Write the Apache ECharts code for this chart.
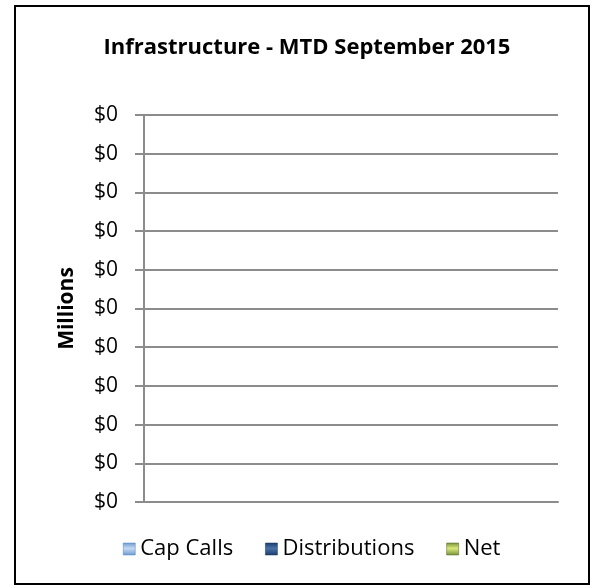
<!DOCTYPE html>
<html>
<head>
<meta charset="utf-8">
<script src="https://cdn.jsdelivr.net/npm/echarts@6/dist/echarts.min.js"></script>
<style>
  html, body { margin: 0; padding: 0; background: #fff; }
  #chart { width: 591px; height: 586px; }
</style>
</head>
<body>
<div id="chart"></div>
<script>
// Month-to-date cash flows for the Infrastructure portfolio (US dollars)
const categories = ['Infrastructure'];
const capCalls = [0];
const distributions = [0];
const net = [0];
const seriesNames = ['Cap Calls', 'Distributions', 'Net'];

// Axis range in dollars; labels shown in millions
const axisMin = 0;
const axisMax = 1000;
const axisStep = 100;

const FONT = '"Open Sans", "Noto Sans", sans-serif';

function grad(edge, mid) {
  return {
    type: 'linear', x: 0, y: 0, x2: 0, y2: 1,
    colorStops: [
      { offset: 0, color: edge },
      { offset: 0.45, color: mid },
      { offset: 1, color: edge }
    ]
  };
}

const colors = [
  grad('#6e9ad2', '#c5d9f1'),
  grad('#1b3c6b', '#4a72a8'),
  grad('#76923c', '#dbe87c')
];
const edgeColors = ['#4f81bd', '#17375e', '#4f6228'];

const chart = echarts.init(document.getElementById('chart'), null, { renderer: 'canvas' });

chart.setOption({
  animation: false,
  backgroundColor: '#ffffff',
  graphic: [{
    type: 'rect',
    shape: { x: 15, y: 6, width: 574, height: 578 },
    style: { fill: 'none', stroke: '#000000', lineWidth: 2 },
    silent: true
  }],
  title: {
    text: 'Infrastructure - MTD September 2015',
    left: 302,
    textAlign: 'center',
    top: 32,
    textStyle: { fontFamily: FONT, fontWeight: 'bold', fontSize: 22, color: '#000' }
  },
  grid: { left: 144, top: 115, width: 414, height: 387 },
  legend: {
    data: seriesNames.map((name, i) => ({
      name,
      itemStyle: { color: colors[i], borderColor: edgeColors[i], borderWidth: 0.5 }
    })),
    left: 118,
    top: 533,
    icon: 'rect',
    itemWidth: 12,
    itemHeight: 12,
    itemGap: 32,
    textStyle: { fontFamily: FONT, fontSize: 22, color: '#000' }
  },
  xAxis: {
    type: 'category',
    data: categories,
    axisLine: { show: true, lineStyle: { color: '#8c8c8c', width: 2 } },
    axisTick: { show: false },
    axisLabel: { show: false },
    splitLine: { show: false }
  },
  yAxis: {
    type: 'value',
    min: axisMin,
    max: axisMax,
    interval: axisStep,
    name: 'Millions',
    nameLocation: 'middle',
    nameRotate: 90,
    nameGap: 66,
    nameTextStyle: { fontFamily: FONT, fontWeight: 'bold', fontSize: 21, color: '#000' },
    axisLine: { show: true, lineStyle: { color: '#8c8c8c', width: 2 } },
    axisTick: { show: true, length: 9, lineStyle: { color: '#8c8c8c', width: 2 } },
    axisLabel: {
      margin: 26,
      fontFamily: FONT,
      fontSize: 21,
      color: '#000',
      formatter: v => '$' + (v / 1e6).toFixed(0)
    },
    splitLine: { show: true, lineStyle: { color: '#8c8c8c', width: 2 } }
  },
  series: [
    { name: seriesNames[0], type: 'bar', data: capCalls, itemStyle: { color: colors[0] } },
    { name: seriesNames[1], type: 'bar', data: distributions, itemStyle: { color: colors[1] } },
    { name: seriesNames[2], type: 'bar', data: net, itemStyle: { color: colors[2] } }
  ]
});
</script>
</body>
</html>
